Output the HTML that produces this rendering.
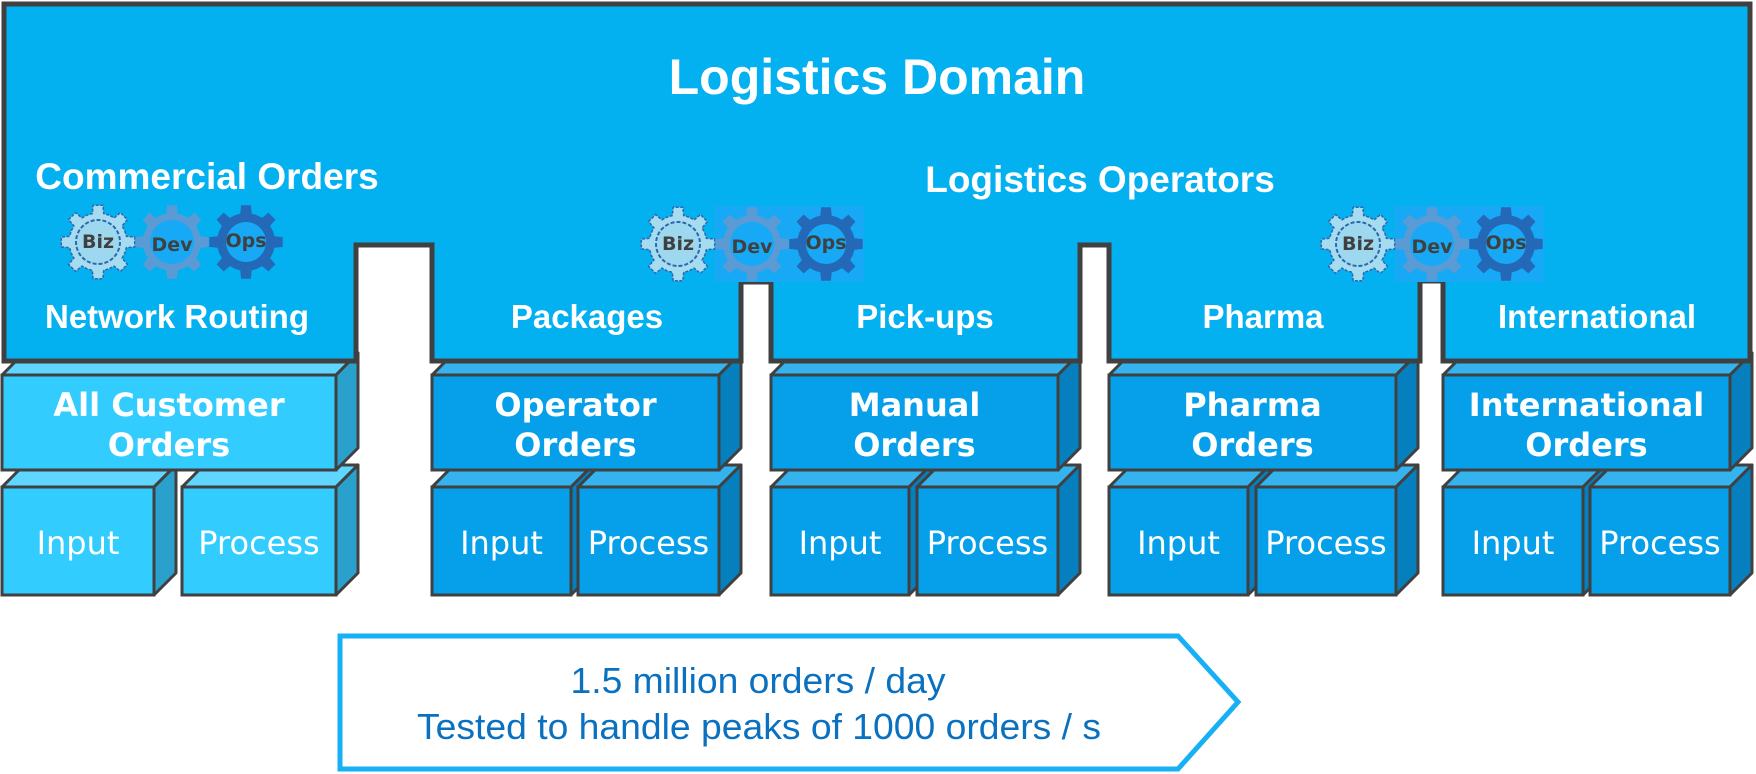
<!DOCTYPE html>
<html><head><meta charset="utf-8"><style>
html,body{margin:0;padding:0;background:#fff;}
svg{display:block;}
.t{font-family:"Liberation Sans",Arial,sans-serif;font-weight:bold;fill:#fff;text-anchor:middle;}
.b{font-family:"DejaVu Sans",Verdana,sans-serif;font-weight:bold;fill:#fff;text-anchor:middle;font-size:32px;}
.n{font-family:"DejaVu Sans",Verdana,sans-serif;fill:#fff;text-anchor:middle;font-size:32px;}
.g{font-family:"DejaVu Sans",Verdana,sans-serif;font-weight:bold;fill:#404040;text-anchor:middle;font-size:19px;}
.a{font-family:"Liberation Sans",Arial,sans-serif;fill:#0a70c0;text-anchor:middle;font-size:36px;}
</style></head><body>
<svg id="s" width="1756" height="774" viewBox="0 0 1756 774" xmlns="http://www.w3.org/2000/svg">
<g id="boxes"></g>
<polygon points="4,4 1750,4 1750,361 1443,361 1443,281 1420,281 1420,361 1109,361 1109,245 1080,245 1080,361 771,361 771,282 741,282 741,361 432,361 432,245 356,245 356,361 4,361" fill="#03B0F0" stroke="#404040" stroke-width="5" stroke-linejoin="miter"/>
<rect x="715" y="206" width="149" height="76" fill="#17A9F6"/>
<rect x="1395" y="206" width="149" height="76" fill="#17A9F6"/>
<g id="gears"></g>
<text class="t" x="877" y="94" font-size="50">Logistics Domain</text>
<text class="t" x="207" y="189" font-size="37">Commercial Orders</text>
<text class="t" x="1100" y="192" font-size="37">Logistics Operators</text>
<text class="t" x="177" y="328" font-size="33">Network Routing</text>
<text class="t" x="587" y="328" font-size="33">Packages</text>
<text class="t" x="925" y="328" font-size="33">Pick-ups</text>
<text class="t" x="1263" y="328" font-size="33">Pharma</text>
<text class="t" x="1597" y="328" font-size="33">International</text>
<polygon points="340,636 1178,636 1238,702 1178,769 340,769" fill="#fff" stroke="#18B0F5" stroke-width="5"/>
<text class="a" x="758" y="693" textLength="375" lengthAdjust="spacingAndGlyphs">1.5 million orders / day</text>
<text class="a" x="759" y="739" textLength="684" lengthAdjust="spacingAndGlyphs">Tested to handle peaks of 1000 orders / s</text>
</svg>
<script>
var NS="http://www.w3.org/2000/svg";
function el(p,tag,attrs,txt){var e=document.createElementNS(NS,tag);for(var k in attrs)e.setAttribute(k,attrs[k]);if(txt)e.textContent=txt;p.appendChild(e);return e;}
var bx=document.getElementById("boxes");
function box(x1,y1,x2,y2,d,c,txt,cls,lines){
  el(bx,"polygon",{points:[x1,y1,x1+d,y1-d,x2+d,y1-d,x2,y1].join(","),fill:c[1],stroke:"#404040","stroke-width":3,"stroke-linejoin":"round"});
  el(bx,"polygon",{points:[x2,y1,x2+d,y1-d,x2+d,y2-d,x2,y2].join(","),fill:c[2],stroke:"#404040","stroke-width":3,"stroke-linejoin":"round"});
  el(bx,"rect",{x:x1,y:y1,width:x2-x1,height:y2-y1,fill:c[0],stroke:"#404040","stroke-width":3});
  var cx=(x1+x2)/2;
  if(lines){el(bx,"text",{class:cls,x:cx,y:416},lines[0]);el(bx,"text",{class:cls,x:cx,y:456},lines[1]);}
  else el(bx,"text",{class:cls,x:cx,y:554},txt);
}
var light=["#33CCFF","#5ED6FF","#2AA0CC"], dark=["#06A0EA","#35B3EF","#067FBE"];
var cols=[[2,154,182,358,light,["All Customer","Orders"]],
 [432,571,578,741,dark,["Operator","Orders"]],
 [771,909,917,1080,dark,["Manual","Orders"]],
 [1109,1248,1256,1418,dark,["Pharma","Orders"]],
 [1443,1583,1590,1752,dark,["International","Orders"]]];
var d=22;
cols.forEach(function(c){
  box(c[0],487,c[1],595,d,c[4],"Input","n");
  box(c[2],487,c[3]-d,595,d,c[4],"Process","n");
  box(c[0],375,c[3]-d,470,d,c[4],null,"b",c[5]);
});
var gg=document.getElementById("gears");
function gearPath(cx,cy,ro,ri,n){
  var p="",step=Math.PI*2/n;
  for(var i=0;i<n;i++){
    var a=i*step;
    var pts=[[ri,a-step*0.5],[ri,a-step*0.25],[ro,a-step*0.17],[ro,a+step*0.17],[ri,a+step*0.25]];
    pts.forEach(function(q,j){var x=cx+q[0]*Math.cos(q[1]),y=cy+q[0]*Math.sin(q[1]);p+=(i==0&&j==0?"M":"L")+x.toFixed(1)+","+y.toFixed(1);});
  }
  return p+"Z";
}
function gears(x0,cy){
  var c=x0;
  el(gg,"path",{d:gearPath(c,cy,37,29,8),fill:"#A6DCEF",stroke:"#2F66B0","stroke-width":1.5,"stroke-dasharray":"3,1.5"});
  el(gg,"circle",{cx:c,cy:cy,r:22,fill:"#9ED8EE",stroke:"#2F66B0","stroke-width":2,"stroke-dasharray":"4,2"});
  el(gg,"text",{class:"g",x:c,y:cy+6},"Biz");
  c=x0+74;
  el(gg,"path",{d:gearPath(c,cy,37,29,8),fill:"#5B9BD5"});
  el(gg,"circle",{cx:c,cy:cy,r:22,fill:"#17A9F6"});
  el(gg,"text",{class:"g",x:c,y:cy+9},"Dev");
  c=x0+148;
  el(gg,"path",{d:gearPath(c,cy,37,29,8),fill:"#2468B8"});
  el(gg,"circle",{cx:c,cy:cy,r:20,fill:"#17A9F6"});
  el(gg,"text",{class:"g",x:c,y:cy+5},"Ops");
}
gears(98,242);
gears(678,244);
gears(1358,244);
</script>
</body></html>
